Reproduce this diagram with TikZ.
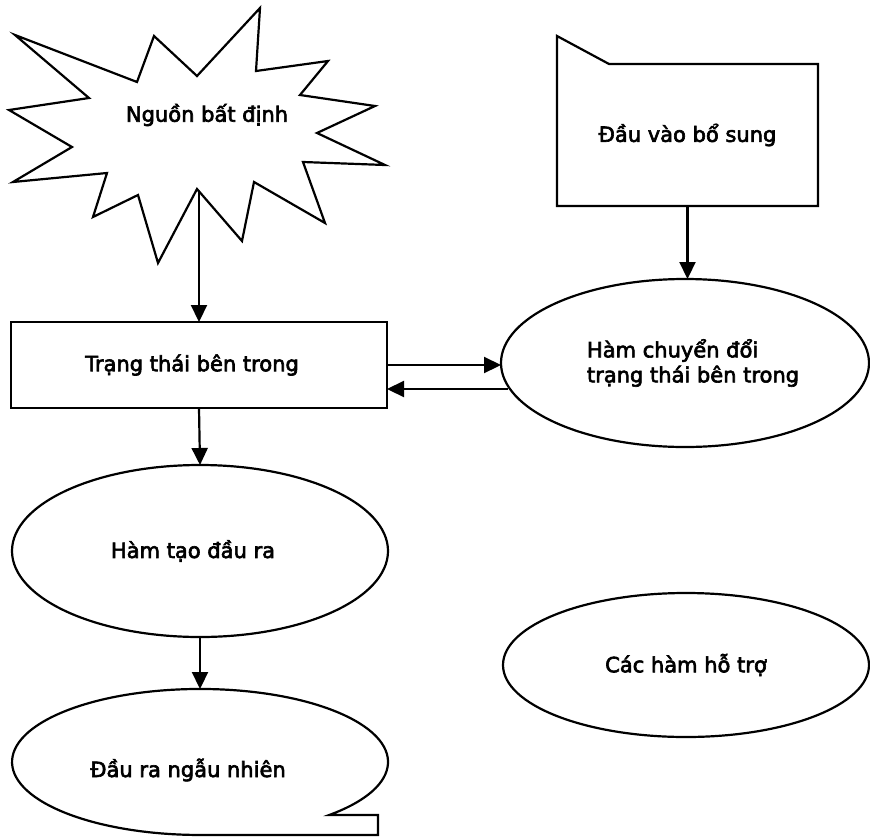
\documentclass[tikz,border=0pt]{standalone}
\usepackage{fontspec}
\setmainfont{DejaVu Sans}[FakeBold=3]
\usetikzlibrary{arrows.meta,shapes.geometric}
\begin{document}
\begin{tikzpicture}[x=1pt,y=-1pt,
  font=\fontsize{21}{25}\selectfont,
  outline/.style={draw=black,line width=2.2pt,line join=miter},
  arr/.style={line width=2.2pt,-{Triangle[length=17pt,width=16pt]}},
  oval/.style={ellipse,outline,inner sep=0pt,outer sep=0pt},
  hidden/.style={inner sep=0pt,outer sep=0pt}]
\useasboundingbox (0,0) rectangle (870,838);

% starburst: uncertain source
\draw[outline] (15,35) -- (137,82) -- (154,36) -- (197,76) -- (260,8) -- (256,71)
  -- (328,61) -- (300,95) -- (375,106) -- (317,133) -- (385,165) -- (303,162)
  -- (325,223) -- (254,182) -- (242,241) -- (197,189) -- (158,263) -- (138,195)
  -- (93,217) -- (107,173) -- (13,182) -- (72,147) -- (9,110) -- (89,98) -- cycle;
\node[hidden] (src) at (207,115) {Nguồn bất định};
\coordinate (srcfoot) at (199,191);

% internal state
\node[draw,line width=2.2pt,minimum width=376pt,minimum height=86pt,hidden] (state)
  at (199,365) {\hspace*{-14pt}Trạng thái bên trong};

% additional input card with a clipped corner
\node[hidden,minimum width=261pt,minimum height=142pt] (card) at (687.5,135) {Đầu vào bổ sung};
\draw[outline] (card.south west) -- ([yshift=28pt]card.north west)
  -- ([xshift=52pt]card.north west) -- (card.north east) -- (card.south east) -- cycle;

% transition function
\node[oval,minimum width=368pt,minimum height=168pt,align=left] (trans) at (685,363)
  {\hspace*{16pt}Hàm chuyển đổi\\\hspace*{16pt}trạng thái bên trong};

% output function
\node[oval,minimum width=376pt,minimum height=172pt] (gen) at (200,551) {\hspace*{-14pt}Hàm tạo đầu ra};

% random output callout
\node[ellipse,hidden,minimum width=376pt,minimum height=146pt] (out) at (200,762) {};
\node[hidden] (outtext) at (188,770) {Đầu ra ngẫu nhiên};
\draw[outline] (329.2,815)
  arc[start angle=46.6,end angle=-270,x radius=188,y radius=73]
  -- (378,835) -- (378,815) -- cycle;

% helper functions
\node[oval,minimum width=366pt,minimum height=144pt] (help) at (686,665) {Các hàm hỗ trợ};

% connectors
\draw[arr] (srcfoot) -- (srcfoot |- state.north);
\draw[arr] (card.south) -- (card.south |- trans.north);
\draw[arr] (state.east) -- (state.east -| trans.west);
\coordinate (back) at (508,389);
\draw[arr] (back) -- (back -| state.east);
\draw[arr] (state.south) -- (gen.north);
\draw[arr] (gen.south) -- (out.north);
\end{tikzpicture}
\end{document}
